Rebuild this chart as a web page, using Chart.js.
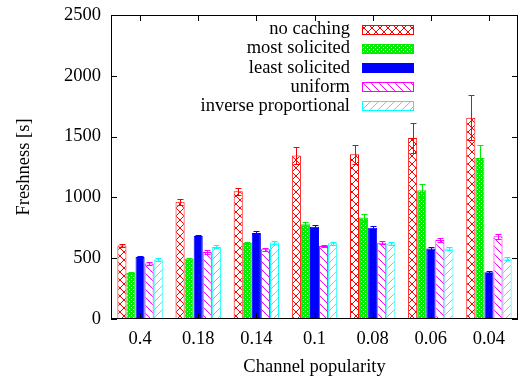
<!DOCTYPE html>
<html>
<head>
<meta charset="utf-8">
<script src="https://cdn.jsdelivr.net/npm/chart.js@4/dist/chart.umd.min.js"></script>
<style>
  html, body { margin: 0; padding: 0; background: #fff; }
  canvas { display: block; }
</style>
</head>
<body>
<canvas id="chart" width="519" height="378"></canvas>
<script>
// ---- data ----
const categories  = ['0.4', '0.18', '0.14', '0.1', '0.08', '0.06', '0.04'];
const seriesNames = ['no caching', 'most solicited', 'least solicited', 'uniform', 'inverse proportional'];

const noCaching      = [605, 965, 1050, 1345, 1355, 1488, 1655];
const mostSolicited  = [378, 495, 625, 780, 835, 1058, 1325];
const leastSolicited = [510, 682, 708, 758, 750, 580, 385];
const uniform        = [456, 552, 573, 600, 628, 650, 680];
const inverseProp    = [490, 593, 630, 622, 620, 580, 498];

const errNoCaching      = [10, 25, 30, 68, 77, 120, 185];
const errMostSolicited  = [8, 10, 10, 18, 30, 55, 105];
const errLeastSolicited = [10, 12, 12, 12, 12, 10, 8];
const errUniform        = [12, 15, 12, 12, 15, 15, 20];
const errInverseProp    = [10, 12, 10, 10, 10, 10, 10];

const yTicks = [0, 500, 1000, 1500, 2000, 2500];

const FONT = '"Liberation Serif", "DejaVu Serif", serif';
const FSIZE = 18.5;

// ---- fill patterns ----
function makePattern(kind, color) {
  const s = kind === 'dense' ? 4 : 8;
  const c = document.createElement('canvas');
  c.width = s; c.height = s;
  const g = c.getContext('2d');
  g.fillStyle = '#fff';
  g.fillRect(0, 0, s, s);
  g.strokeStyle = color;
  g.lineWidth = 1;
  function down() { for (const dx of [-s, 0, s]) { g.beginPath(); g.moveTo(dx, 0); g.lineTo(dx + s, s); g.stroke(); } }
  function up()   { for (const dx of [-s, 0, s]) { g.beginPath(); g.moveTo(dx, s); g.lineTo(dx + s, 0); g.stroke(); } }
  if (kind === 'cross') { down(); up(); }
  else if (kind === 'dense') {
    g.fillStyle = color; g.fillRect(0, 0, s, s);
    g.fillStyle = '#fff'; g.fillRect(1, 1, 1, 1); g.fillRect(3, 3, 1, 1);
  }
  else if (kind === 'down') down();
  else if (kind === 'up') up();
  return g.createPattern(c, 'repeat');
}

const colors   = ['#ff0000', '#00ee00', '#0000ff', '#ff00ff', '#00ffff'];
const fills    = [
  makePattern('cross', colors[0]),
  makePattern('dense', colors[1]),
  colors[2],
  makePattern('down', colors[3]),
  makePattern('up', colors[4])
];
const values = [noCaching, mostSolicited, leastSolicited, uniform, inverseProp];
const errors = [errNoCaching, errMostSolicited, errLeastSolicited, errUniform, errInverseProp];

const datasets = seriesNames.map((name, i) => ({
  label: name,
  data: values[i],
  errors: errors[i],
  backgroundColor: fills[i],
  borderColor: colors[i],
  borderWidth: 1,
  categoryPercentage: 0.78,
  barPercentage: 1.0
}));

// ---- plugins: frame + inward ticks, error bars, legend ----
const framePlugin = {
  id: 'frame',
  afterDraw(chart) {
    const { ctx, chartArea: a, scales } = chart;
    ctx.save();
    ctx.strokeStyle = '#000';
    ctx.lineWidth = 1;
    ctx.strokeRect(a.left + 0.5, a.top + 0.5, a.right - a.left - 1, a.bottom - a.top - 1);
    ctx.beginPath();
    scales.y.ticks.forEach((t, i) => {
      const y = Math.round(scales.y.getPixelForTick(i)) + 0.5;
      ctx.moveTo(a.left, y); ctx.lineTo(a.left + 6, y);
      ctx.moveTo(a.right, y); ctx.lineTo(a.right - 6, y);
    });
    scales.x.ticks.forEach((t, i) => {
      const x = Math.round(scales.x.getPixelForTick(i)) + 0.5;
      ctx.moveTo(x, a.bottom); ctx.lineTo(x, a.bottom - 6);
      ctx.moveTo(x, a.top); ctx.lineTo(x, a.top + 6);
    });
    ctx.stroke();
    ctx.restore();
  }
};

const errorBarPlugin = {
  id: 'errorBars',
  afterDatasetsDraw(chart) {
    const { ctx } = chart;
    const y = chart.scales.y;
    ctx.save();
    ctx.lineWidth = 1;
    chart.data.datasets.forEach((ds, di) => {
      const meta = chart.getDatasetMeta(di);
      ctx.strokeStyle = ds.borderColor;
      meta.data.forEach((bar, j) => {
        const v = ds.data[j], e = ds.errors[j];
        const x = Math.round(bar.x) + 0.5;
        const yt = Math.round(y.getPixelForValue(v + e)) + 0.5;
        const yb = Math.round(y.getPixelForValue(v - e)) + 0.5;
        ctx.beginPath();
        ctx.moveTo(x, yt); ctx.lineTo(x, yb);
        ctx.moveTo(x - 3, yt); ctx.lineTo(x + 3, yt);
        ctx.moveTo(x - 3, yb); ctx.lineTo(x + 3, yb);
        ctx.stroke();
      });
    });
    ctx.restore();
  }
};

const legendPlugin = {
  id: 'rightLegend',
  afterDraw(chart) {
    const { ctx } = chart;
    ctx.save();
    ctx.font = FSIZE + 'px ' + FONT;
    ctx.textAlign = 'right';
    ctx.textBaseline = 'middle';
    chart.data.datasets.forEach((ds, i) => {
      const cy = 29.5 + i * 19.1;
      ctx.fillStyle = '#000';
      ctx.fillText(ds.label, 350, cy);
      ctx.fillStyle = ds.backgroundColor;
      ctx.fillRect(362, Math.round(cy - 4.5), 51, 9);
      ctx.strokeStyle = ds.borderColor;
      ctx.strokeRect(362.5, Math.round(cy - 4.5) + 0.5, 51, 9);
    });
    ctx.restore();
  }
};

new Chart(document.getElementById('chart'), {
  type: 'bar',
  data: { labels: categories, datasets },
  plugins: [errorBarPlugin, framePlugin, legendPlugin],
  options: {
    responsive: false,
    animation: false,
    devicePixelRatio: 1,
    layout: { padding: { top: 15, right: 1, left: 0, bottom: 0 } },
    plugins: { legend: { display: false }, tooltip: { enabled: false } },
    scales: {
      x: {
        grid: { display: false, drawTicks: false },
        border: { display: false },
        ticks: { color: '#000', font: { family: FONT, size: FSIZE }, padding: 9 },
        title: { display: true, text: 'Channel popularity', color: '#000',
                 font: { family: FONT, size: FSIZE }, padding: { top: 0, bottom: 0 } },
        afterFit(s) { s.height = 59; s.paddingLeft = 0; s.paddingRight = 0; }
      },
      y: {
        min: 0, max: 2500,
        grid: { display: false, drawTicks: false },
        border: { display: false },
        afterBuildTicks(s) { s.ticks = yTicks.map(v => ({ value: v })); },
        ticks: { color: '#000', font: { family: FONT, size: FSIZE }, padding: 10,
                 callback: v => String(v) },
        title: { display: true, text: 'Freshness [s]', color: '#000',
                 font: { family: FONT, size: FSIZE }, padding: { top: 13, bottom: 0 } },
        afterFit(s) { s.width = 111; s.paddingTop = 0; s.paddingBottom = 0; }
      }
    }
  }
});
</script>
</body>
</html>
